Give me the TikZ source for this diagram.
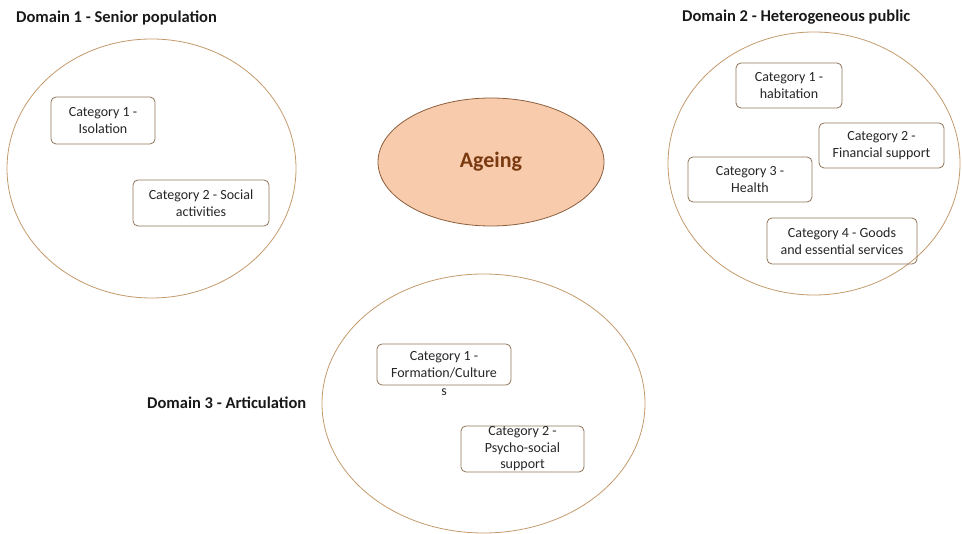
\documentclass[tikz,border=0pt]{standalone}
\usepackage{fontspec}
\setmainfont{Carlito}
\usetikzlibrary{shapes.geometric}
\definecolor{ringc}{HTML}{C49A6C}
\definecolor{boxc}{HTML}{8E7458}
\definecolor{agefill}{HTML}{F8CBAD}
\definecolor{ageline}{HTML}{8B5E3C}
\definecolor{agetext}{HTML}{7A3A10}
\tikzset{
  ring/.style={draw=ringc, line width=0.8pt, ellipse, inner sep=0pt},
  catbox/.style={draw=boxc, line width=0.8pt, rounded corners=5pt, inner sep=0pt, align=center,
    font=\fontsize{14}{16.5}\selectfont, text=black!85},
  cattext/.style={inner sep=0pt, align=center, font=\fontsize{14}{17.5}\selectfont, text=black!85},
  domtitle/.style={inner sep=0pt, anchor=west, font=\fontsize{16.5}{18}\selectfont\bfseries, text=black!90},
}
\begin{document}
\begin{tikzpicture}[x=1pt,y=-1pt]
\useasboundingbox (0,0) rectangle (962,534);
% Domain 1
\node[domtitle] (t1) at (16,18) {Domain 1 - Senior population};
\node[ring, minimum width=289pt, minimum height=259pt] (d1) at (151.5,168.5) {};
\node[catbox, minimum width=104pt, minimum height=47pt] (d1c1) at (103,120.5) {Category 1 -\\Isolation};
\node[catbox, minimum width=136pt, minimum height=46pt] (d1c2) at (201,203) {Category 2 - Social\\activities};
% Domain 2
\node[domtitle] (t2) at (682,17) {Domain 2 - Heterogeneous public};
\node[ring, minimum width=292pt, minimum height=263pt] (d2) at (814,163.5) {};
\node[catbox, minimum width=106pt, minimum height=45pt] (d2c1) at (789,85.5) {Category 1 -\\habitation};
\node[catbox, minimum width=125pt, minimum height=45pt] (d2c2) at (881.5,145.5) {Category 2 -\\Financial support};
\node[catbox, minimum width=124pt, minimum height=45pt] (d2c3) at (750,179.5) {Category 3 -\\Health};
\node[catbox, minimum width=150pt, minimum height=46pt] (d2c4) at (842,241) {Category 4 - Goods\\and essential services};
% Ageing
\node[ellipse, draw=ageline, fill=agefill, line width=0.8pt, inner sep=0pt,
  minimum width=226pt, minimum height=128pt, font=\fontsize{22}{24}\selectfont\bfseries, text=agetext] (age) at (491,162) {Ageing};
% Domain 3
\node[domtitle] (t3) at (147,403) {Domain 3 - Articulation};
\node[ring, minimum width=323pt, minimum height=259pt] (d3) at (483.5,403.5) {};
\node[catbox, minimum width=134pt, minimum height=41pt] (d3c1) at (444,364.5) {};
\node[cattext, anchor=north] (d3c1t) at (444,351) {Category 1 -\\Formation/Culture\\s};
\node[catbox, minimum width=123pt, minimum height=46pt] (d3c2) at (522.5,449) {Category 2 -\\Psycho-social\\support};
\end{tikzpicture}
\end{document}
